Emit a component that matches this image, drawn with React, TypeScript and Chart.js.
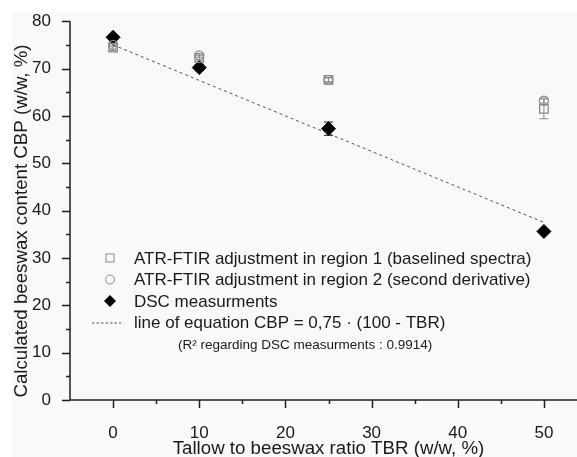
import React, { useEffect, useRef } from 'react';
import { Chart, registerables } from 'chart.js';

Chart.register(...registerables);

// ---- data ----
const tbr = [0, 10, 25, 50];
const atr1 = [74.4, 72.2, 67.6, 61.5];
const atr1Err = [0.6, 0.6, 0.5, 2.1];
const atr2 = [75.0, 72.8, 67.6, 63.2];
const atr2Err = [0.4, 0.4, 0.4, 0.5];
const dsc = [76.6, 70.2, 57.3, 35.6];
const dscErr = [0.4, 0.6, 1.4, 0.4];
const lineX = [0, 50];
const lineY = [75, 37.5];

const xMajor = [0, 10, 20, 30, 40, 50];
const xMinor = [5, 15, 25, 35, 45, 55];
const yMajor = [0, 10, 20, 30, 40, 50, 60, 70, 80];
const yMinor = [5, 15, 25, 35, 45, 55, 65, 75];

const legendLabels = [
  'ATR-FTIR adjustment in region 1 (baselined spectra)',
  'ATR-FTIR adjustment in region 2 (second derivative)',
  'DSC measurments',
  'line of equation CBP = 0,75 · (100 - TBR)',
];
const r2Note = '(R² regarding DSC measurments : 0.9914)';
const xTitle = 'Tallow to beeswax ratio TBR (w/w, %)';
const yTitle = 'Calculated beeswax content CBP (w/w, %)';

const FONT = '"Liberation Sans", Arial, sans-serif';
const GRAY = '#8a8a8a';
const DARK = '#1e1e1e';

const CW = 600;
const CH = 470;

const bgPlugin = {
  id: 'bg',
  beforeDraw(chart: any) {
    const { ctx } = chart;
    ctx.save();
    ctx.fillStyle = '#ffffff';
    ctx.fillRect(0, 0, chart.width, chart.height);
    ctx.fillStyle = '#f9f9f9';
    ctx.fillRect(12, 12, chart.width - 12, chart.height - 12);
    ctx.restore();
  },
};

const errPlugin = {
  id: 'errbars',
  beforeDatasetsDraw(chart: any) {
    const { ctx } = chart;
    const xs = chart.scales.x;
    const ys = chart.scales.y;
    const sets = [
      { v: atr1, e: atr1Err, c: GRAY },
      { v: atr2, e: atr2Err, c: GRAY },
      { v: dsc, e: dscErr, c: DARK },
    ];
    ctx.save();
    ctx.lineWidth = 1;
    sets.forEach((s) => {
      ctx.strokeStyle = s.c;
      tbr.forEach((x, i) => {
        const px = xs.getPixelForValue(x);
        const top = ys.getPixelForValue(s.v[i] + s.e[i]);
        const bot = ys.getPixelForValue(s.v[i] - s.e[i]);
        ctx.beginPath();
        ctx.moveTo(px, top);
        ctx.lineTo(px, bot);
        ctx.moveTo(px - 4.5, top);
        ctx.lineTo(px + 4.5, top);
        ctx.moveTo(px - 4.5, bot);
        ctx.lineTo(px + 4.5, bot);
        ctx.stroke();
      });
    });
    ctx.restore();
  },
};

const axesPlugin = {
  id: 'axes',
  afterDraw(chart: any) {
    const { ctx, chartArea } = chart;
    const xs = chart.scales.x;
    const ys = chart.scales.y;
    const L = chartArea.left;
    const B = chartArea.bottom;
    ctx.save();
    ctx.strokeStyle = DARK;
    ctx.lineWidth = 1.5;
    ctx.beginPath();
    ctx.moveTo(L, chartArea.top);
    ctx.lineTo(L, B);
    ctx.lineTo(chartArea.right, B);
    xMajor.forEach((v) => {
      const p = Math.round(xs.getPixelForValue(v)) + 0.5;
      ctx.moveTo(p, B);
      ctx.lineTo(p, B + 8);
    });
    xMinor.forEach((v) => {
      const p = Math.round(xs.getPixelForValue(v)) + 0.5;
      ctx.moveTo(p, B);
      ctx.lineTo(p, B + 4);
    });
    yMajor.forEach((v) => {
      const p = Math.round(ys.getPixelForValue(v)) + 0.5;
      ctx.moveTo(L, p);
      ctx.lineTo(L - 8, p);
    });
    yMinor.forEach((v) => {
      const p = Math.round(ys.getPixelForValue(v)) + 0.5;
      ctx.moveTo(L, p);
      ctx.lineTo(L - 4, p);
    });
    ctx.stroke();

    // axis titles
    ctx.fillStyle = '#1a1a1a';
    ctx.font = `18.7px ${FONT}`;
    ctx.textAlign = 'center';
    ctx.textBaseline = 'middle';
    ctx.fillText(xTitle, (chartArea.left + chartArea.right) / 2, 449);
    ctx.save();
    ctx.translate(22, 221);
    ctx.rotate(-Math.PI / 2);
    ctx.fillText(yTitle, 0, 0);
    ctx.restore();

    // legend
    const sx = 110;
    const tx = 134;
    const ys0 = 258;
    const dy = 21.5;
    ctx.font = `17px ${FONT}`;
    ctx.fillStyle = '#1a1a1a';
    ctx.textBaseline = 'middle';
    ctx.textAlign = 'left';
    legendLabels.forEach((t, i) => ctx.fillText(t, tx, ys0 + i * dy + 1));
    ctx.lineWidth = 1;
    ctx.strokeStyle = GRAY;
    ctx.strokeRect(sx - 4, ys0 - 4, 8, 8);
    ctx.beginPath();
    ctx.arc(sx, ys0 + dy, 4.5, 0, Math.PI * 2);
    ctx.stroke();
    ctx.fillStyle = '#000';
    const dyD = ys0 + 2 * dy;
    ctx.beginPath();
    ctx.moveTo(sx, dyD - 6);
    ctx.lineTo(sx + 6, dyD);
    ctx.lineTo(sx, dyD + 6);
    ctx.lineTo(sx - 6, dyD);
    ctx.closePath();
    ctx.fill();
    ctx.strokeStyle = '#555';
    ctx.setLineDash([2.5, 2]);
    ctx.beginPath();
    const ly = ys0 + 3 * dy + 0.5;
    ctx.moveTo(92, ly);
    ctx.lineTo(121, ly);
    ctx.stroke();
    ctx.setLineDash([]);
    ctx.font = `13.5px ${FONT}`;
    ctx.fillStyle = '#1a1a1a';
    ctx.fillText(r2Note, 178, ys0 + 4 * dy + 1);
    ctx.restore();
  },
};

export default function App() {
  const ref = useRef<HTMLCanvasElement | null>(null);
  useEffect(() => {
    if (!ref.current) return;
    const chart = new Chart(ref.current, {
      type: 'scatter',
      data: {
        datasets: [
          {
            label: 'line',
            type: 'line',
            data: lineX.map((x, i) => ({ x, y: lineY[i] })),
            borderColor: '#555',
            borderWidth: 1,
            borderDash: [3, 3],
            pointRadius: 0,
            fill: false,
          },
          {
            label: legendLabels[0],
            data: tbr.map((x, i) => ({ x, y: atr1[i] })),
            pointStyle: 'rect',
            pointRadius: 6,
            borderColor: GRAY,
            borderWidth: 1.3,
            backgroundColor: 'rgba(0,0,0,0)',
          },
          {
            label: legendLabels[1],
            data: tbr.map((x, i) => ({ x, y: atr2[i] })),
            pointStyle: 'circle',
            pointRadius: 4.5,
            borderColor: GRAY,
            borderWidth: 1.3,
            backgroundColor: 'rgba(0,0,0,0)',
          },
          {
            label: legendLabels[2],
            data: tbr.map((x, i) => ({ x, y: dsc[i] })),
            pointStyle: 'rectRot',
            pointRadius: 7,
            borderColor: '#000',
            borderWidth: 1,
            backgroundColor: '#000',
          },
        ],
      },
      options: {
        responsive: false,
        animation: false,
        events: [],
        layout: { padding: { top: 20, right: CW - 587, left: 0, bottom: 0 } },
        plugins: {
          legend: { display: false },
          tooltip: { enabled: false },
        },
        scales: {
          x: {
            type: 'linear',
            min: -5,
            max: 55,
            afterFit: (s: any) => {
              s.height = CH - 400;
            },
            afterBuildTicks: (s: any) => {
              s.ticks = xMajor.map((v) => ({ value: v }));
            },
            grid: { display: false },
            border: { display: false },
            ticks: {
              padding: 15,
              color: '#1a1a1a',
              font: { family: FONT, size: 17 },
              maxRotation: 0,
              autoSkip: false,
            },
            title: { display: false },
          },
          y: {
            type: 'linear',
            min: 0,
            max: 80,
            afterFit: (s: any) => {
              s.width = 70;
            },
            afterBuildTicks: (s: any) => {
              s.ticks = yMajor.map((v) => ({ value: v }));
            },
            grid: { display: false },
            border: { display: false },
            ticks: {
              padding: 11,
              color: '#1a1a1a',
              font: { family: FONT, size: 17 },
              autoSkip: false,
            },
            title: { display: false },
          },
        },
      },
      plugins: [bgPlugin, errPlugin, axesPlugin],
    } as any);
    return () => chart.destroy();
  }, []);

  return (
    <div
      style={{
        position: 'fixed',
        left: 0,
        top: 0,
        width: 577,
        height: 457,
        overflow: 'hidden',
      }}
    >
      <canvas ref={ref} width={CW} height={CH} style={{ display: 'block', width: CW, height: CH }} />
    </div>
  );
}
